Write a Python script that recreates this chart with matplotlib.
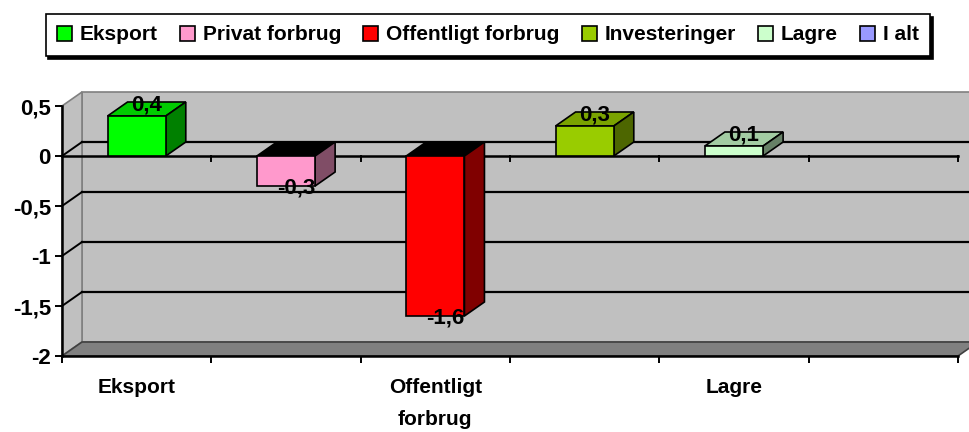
import numpy as np
import matplotlib
matplotlib.use("Agg")
import matplotlib.pyplot as plt
from matplotlib.patches import Polygon, Patch

plt.rcParams['font.family'] = ['Liberation Sans', 'DejaVu Sans']
plt.rcParams['font.weight'] = 'bold'

# ---- data ----
series = ["Eksport", "Privat forbrug", "Offentligt forbrug", "Investeringer", "Lagre", "I alt"]
values = [0.4, -0.3, -1.6, 0.3, 0.1, np.nan]
value_labels = ["0,4", "-0,3", "-1,6", "0,3", "0,1", ""]
front_colors = ["#00FF00", "#FF99CC", "#FF0000", "#99CC00", "#CCFFCC", "#9999FF"]
top_colors = ["#00CC00", "#CC7AA3", "#CC0000", "#7AA300", "#A3CCA3", "#7A7ACC"]
side_colors = ["#008000", "#804D66", "#800000", "#4D6600", "#668066", "#4D4D80"]
cat_ticks = [0, 2, 4]
cat_labels = ["Eksport", "Offentligt\nforbrug", "Lagre"]
yticks = [0.5, 0, -0.5, -1, -1.5, -2]
ytick_labels = ["0,5", "0", "-0,5", "-1", "-1,5", "-2"]

W, H = 970, 432
fig = plt.figure(figsize=(W / 100, H / 100), dpi=100)
ax_l, ax_r, ax_top, ax_bot = 62, 958, 106, 356
ax = fig.add_axes([ax_l / W, 1 - ax_bot / H, (ax_r - ax_l) / W, (ax_bot - ax_top) / H])
n = len(series)
ymin, ymax = -2, 0.5
ax.set_xlim(0, n)
ax.set_ylim(ymin, ymax)

# depth offset in data units
dx = 20 * n / (ax_r - ax_l)
dy = 14 * (ymax - ymin) / (ax_bot - ax_top)

def poly(pts, fc, ec="black", lw=1.2, z=1):
    p = Polygon(pts, closed=True, facecolor=fc, edgecolor=ec, linewidth=lw, zorder=z, clip_on=False)
    ax.add_patch(p)

# walls
poly([(dx, ymin + dy), (n + dx, ymin + dy), (n + dx, ymax + dy), (dx, ymax + dy)], "#C0C0C0", ec="#808080", z=0.5)
poly([(0, ymin), (dx, ymin + dy), (dx, ymax + dy), (0, ymax)], "#C0C0C0", ec="#808080", z=0.6)
# gridlines on back wall + side wall
for t in yticks:
    if t in (ymin, ymax):
        continue
    ax.plot([dx, n + dx], [t + dy, t + dy], color="black", lw=1.6, zorder=0.8, clip_on=False)
    ax.plot([0, dx], [t, t + dy], color="black", lw=1.4, zorder=0.8, clip_on=False)
ax.plot([0, dx], [ymin, ymin + dy], color="#808080", lw=1.2, zorder=0.8, clip_on=False)
# floor
poly([(0, ymin), (n, ymin), (n + dx, ymin + dy), (dx, ymin + dy)], "#808080", ec="#404040", z=0.9)

# front zero line with ticks
ax.plot([0, n], [0, 0], color="black", lw=1.8, zorder=1.5, clip_on=False)
tick_len = 5 * (ymax - ymin) / (ax_bot - ax_top)
for i in range(1, n + 1):
    ax.plot([i, i], [0, -tick_len], color="black", lw=1.4, zorder=1.5, clip_on=False)

# bars
bw = 0.39
for i, v in enumerate(values):
    if np.isnan(v):
        continue
    x0 = i + 0.5 - bw / 2
    x1 = i + 0.5 + bw / 2
    top, bot = max(0, v), min(0, v)
    poly([(x0, bot), (x1, bot), (x1, top), (x0, top)], front_colors[i], z=3)
    tc = top_colors[i] if v > 0 else "black"
    poly([(x0, top), (x1, top), (x1 + dx, top + dy), (x0 + dx, top + dy)], tc, z=2.9)
    poly([(x1, bot), (x1 + dx, bot + dy), (x1 + dx, top + dy), (x1, top)], side_colors[i], z=2.9)
    off = 11 if v > 0 else -2
    ax.annotate(value_labels[i], xy=(i + 0.5 + dx / 2, v), xytext=(0, off), textcoords="offset pixels",
                ha="center", va="center", fontsize=16, fontweight="bold", zorder=5)

# axes styling
for s in ["top", "right"]:
    ax.spines[s].set_visible(False)
ax.spines["left"].set_linewidth(1.8)
ax.spines["bottom"].set_linewidth(1.8)
ax.patch.set_visible(False)
ax.set_yticks(yticks)
ax.set_yticklabels(ytick_labels, fontsize=16, fontweight="bold")
ax.tick_params(axis="y", direction="out", length=5, width=1.4, pad=3)
ax.set_xticks([t + 0.5 for t in cat_ticks])
ax.set_xticklabels(cat_labels, fontsize=15, fontweight="bold", linespacing=1.85, va="top")
ax.tick_params(axis="x", which="major", length=0, pad=16)
ax.set_xticks(range(0, n + 1), minor=True)
ax.tick_params(axis="x", which="minor", direction="out", length=5, width=1.4)

# legend
handles = [Patch(facecolor=c, edgecolor="black", linewidth=1.2) for c in front_colors]
leg = fig.legend(handles, series, loc="center", bbox_to_anchor=(488 / W, 1 - 35 / H), ncol=n,
                 frameon=True, fancybox=False, edgecolor="black", fontsize=15,
                 handlelength=0.72, handleheight=0.72, handletextpad=0.38, columnspacing=1.06,
                 borderpad=0.55, borderaxespad=0,
                 shadow={"ox": 2, "oy": -2, "alpha": 1, "color": "black"})
leg.get_frame().set_linewidth(1.2)
for t in leg.get_texts():
    t.set_fontweight("bold")

fig.savefig("out.png", dpi=100)
